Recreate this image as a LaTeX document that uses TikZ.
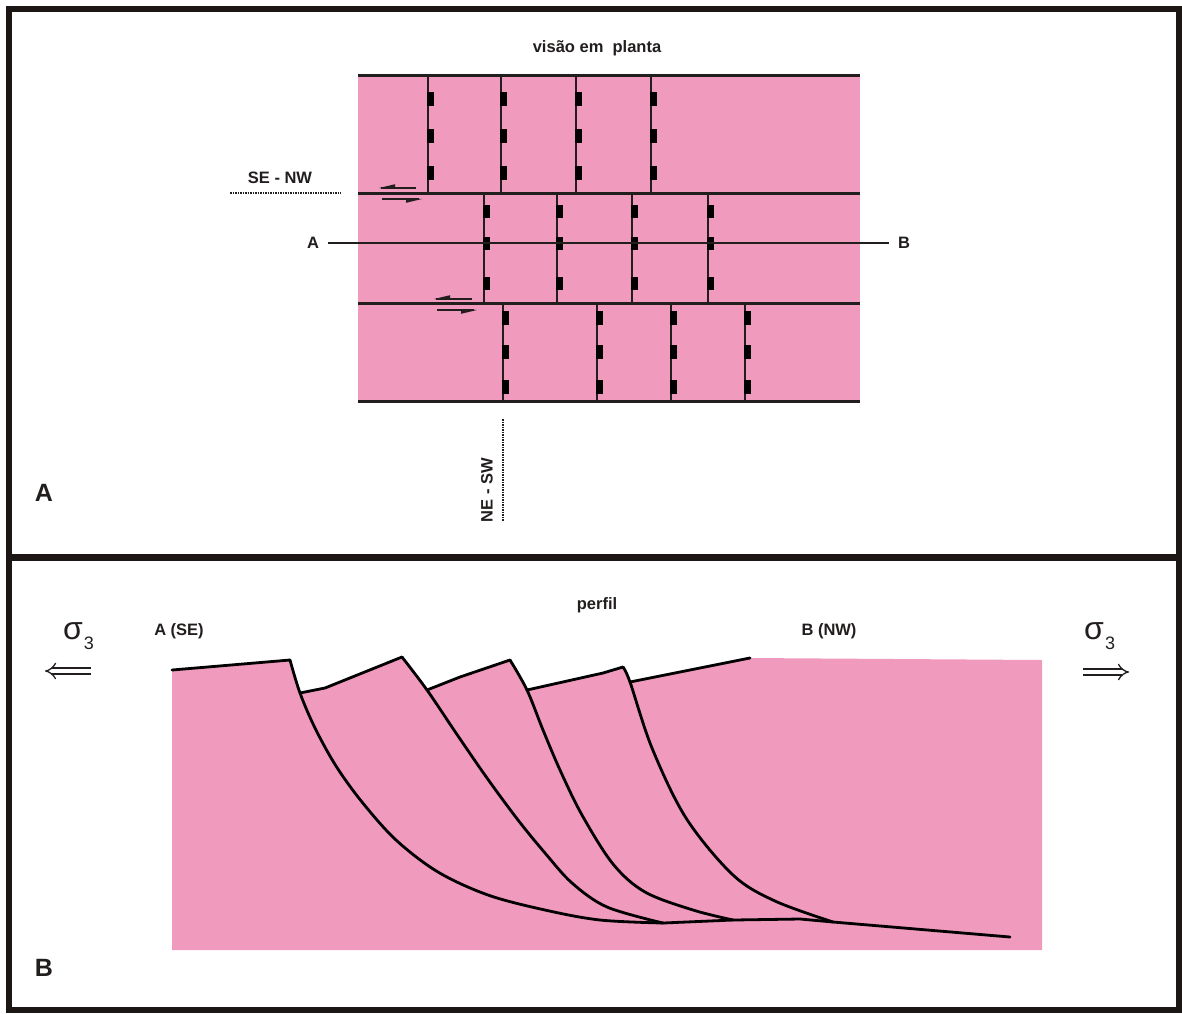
\documentclass[tikz,border=0pt]{standalone}
\usepackage{fontspec}
\setmainfont{Liberation Sans}
\usetikzlibrary{arrows.meta}
\definecolor{rock}{RGB}{240,154,190}
\definecolor{framecol}{RGB}{28,22,20}
\definecolor{ink}{RGB}{35,30,30}

\begin{document}
\begin{tikzpicture}[x=1pt,y=-1pt,
  lbl/.style={font=\bfseries\fontsize{16.5}{18}\selectfont, text=ink, inner sep=3pt},
  panel/.style={font=\bfseries\fontsize{25}{28}\selectfont, text=ink},
  sig/.style={font=\fontsize{32}{34}\selectfont, text=ink, inner sep=0pt},
  sigsub/.style={font=\fontsize{18}{20}\selectfont, text=ink, inner sep=0pt},
  bed/.style={line width=3pt, ink},
  joint/.style={line width=1.4pt, ink},
  trace/.style={line width=1.3pt, ink, dash pattern=on 1.6pt off 0.9pt},
  fault/.style={line width=2.8pt, black, line join=round, line cap=round},
  stress/.style={double=white, double distance=4.5pt, line width=1.3pt, ink, -{Implies}},
]
\useasboundingbox (0,0) rectangle (1182,1013);
\fill[white] (0,0) rectangle (1182,1013);

% ---------------- frame ----------------
\draw[line width=6pt, framecol] (8.5,9) rectangle (1179,1010);
\draw[line width=7pt, framecol] (8.5,557) -- (1179,557);

% ---------------- plan view ----------------
\fill[rock] (358,75) rectangle (860,401);
\foreach \y in {75,193,303,401} \draw[bed] (358,\y) -- (860,\y);

% joints with tension gashes, one row per strip
\foreach \x in {428,501,576,651} {
  \draw[joint] (\x,75) -- (\x,193);
  \foreach \t in {99,136,173} \fill[black] (\x-0.6,\t-7) rectangle (\x+5.6,\t+7);
}
\foreach \x in {484,557,632,708} {
  \draw[joint] (\x,193) -- (\x,303);
  \foreach \t in {211,243,283} \fill[black] (\x-0.6,\t-6.5) rectangle (\x+5.6,\t+6.5);
}
\foreach \x in {503,597,671,745} {
  \draw[joint] (\x,303) -- (\x,401);
  \foreach \t in {318,352,387} \fill[black] (\x-0.6,\t-7) rectangle (\x+5.6,\t+7);
}

% strike-slip half arrows
\draw[line width=1.3pt, ink] (416,188) -- (381,188);
\fill[ink] (379,188) -- (395,184.2) -- (395,188.6) -- cycle;
\draw[line width=1.3pt, ink] (382,199) -- (419,199);
\fill[ink] (422,199) -- (406,202.8) -- (406,198.4) -- cycle;
\draw[line width=1.3pt, ink] (472,299) -- (436,299);
\fill[ink] (434,299) -- (450,295.2) -- (450,299.6) -- cycle;
\draw[line width=1.3pt, ink] (437,310) -- (474,310);
\fill[ink] (477,310) -- (461,313.8) -- (461,309.4) -- cycle;

\node[lbl] (title) at (597,48) {visão em\ \ planta};
\node[lbl] (senw) at (280,178) {SE - NW};
\coordinate (senwA) at (230,193);
\coordinate (senwB) at (341,193);
\draw[trace] (senwA) -- (senwB);
\node[lbl, rotate=90] (nesw) at (487,490) {NE - SW};
\coordinate (neswA) at (503,419);
\coordinate (neswB) at (503,521);
\draw[trace] (neswA) -- (neswB);

\node[lbl] (A) at (313,243) {A};
\node[lbl] (B) at (904,243) {B};
\draw[line width=1.3pt, ink] ([xshift=6pt]A.east) -- ([xshift=-6pt]B.west);

\node[panel] (pa) at (44,493) {A};

% ---------------- cross-section ----------------
\node[lbl] (perfil) at (597,605) {perfil};
\node[lbl] (ase) at (179,631) {A (SE)};
\node[lbl] (bnw) at (829,631) {B (NW)};

\node[sig] (s1) at (73,631) {σ};
\node[sigsub] (s1i) at (89,643) {3};
\node[sig] (s2) at (1094,631) {σ};
\node[sigsub] (s2i) at (1110,643) {3};
\coordinate (l0) at (91,671);  \coordinate (l1) at (45,671);
\coordinate (r0) at (1083,672); \coordinate (r1) at (1129,672);
\draw[stress] (l0) -- (l1);
\draw[stress] (r0) -- (r1);

\fill[rock] (172,950) -- (172,670) -- (290,660) -- (300,693) -- (325,688)
  -- (402,657) -- (427,690) -- (460,677) -- (510,660) -- (527,690)
  -- (603,673) -- (623,667) -- (630,682) -- (750,658) -- (1042,660)
  -- (1042,950) -- cycle;

% tilted block tops
\draw[fault] (172,670) -- (290,660);
\draw[fault] (300,693) -- (325,688) -- (402,657);
\draw[fault] (427,690) -- (460,677) -- (510,660);
\draw[fault] (527,690) -- (603,673) -- (623,667);
\draw[fault] (630,682) -- (750,658);

% listric normal faults
\draw[fault] plot[smooth, tension=0.55] coordinates {(290,660) (300,693) (315,728) (336,766)
  (362,802) (396,840) (438,872) (488,895) (545,910) (600,920) (663,923)};
\draw[fault] plot[smooth, tension=0.55] coordinates {(402,657) (427,690) (456,733)
  (487,778) (518,820) (545,853) (572,883) (607,907) (663,923)};
\draw[fault] plot[smooth, tension=0.55] coordinates {(510,660) (527,690) (543,730)
  (560,770) (582,815) (613,864) (645,892) (693,910) (733,920)};
\draw[fault] plot[smooth, tension=0.55] coordinates {(623,667) (630,682) (652,748)
  (686,818) (733,875) (775,901) (833,922)};
% basal detachment
\draw[fault] (663,923) -- (733,920) -- (800,919) -- (833,922) -- (1010,937);

\node[panel] (pb) at (44,968) {B};
\end{tikzpicture}
\end{document}
